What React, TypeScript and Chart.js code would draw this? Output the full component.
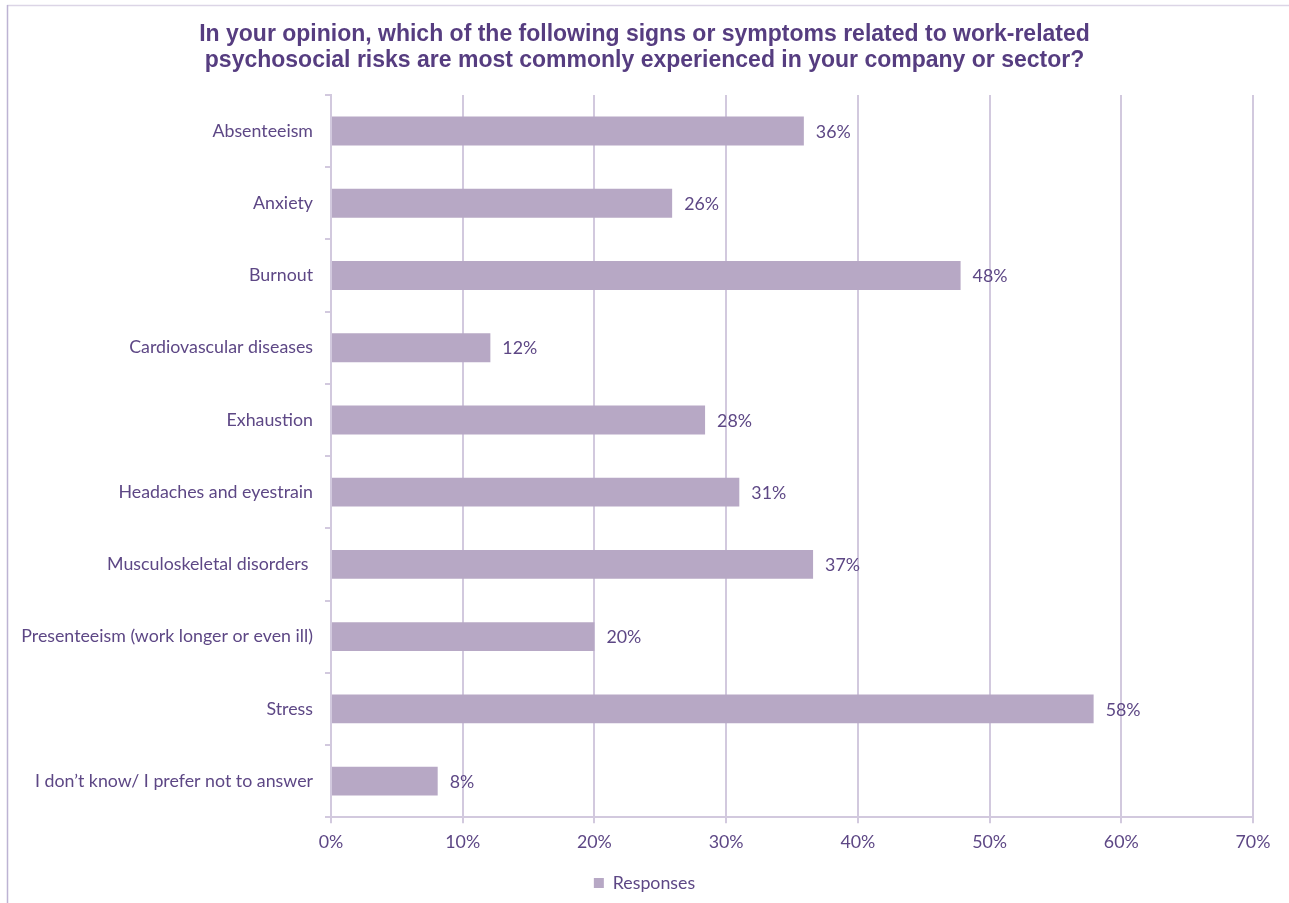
import React, { useEffect, useRef } from "react";
import { Chart, registerables } from "chart.js";

Chart.register(...registerables);

const categories = [
  "Absenteeism",
  "Anxiety",
  "Burnout",
  "Cardiovascular diseases",
  "Exhaustion",
  "Headaches and eyestrain",
  "Musculoskeletal disorders ",
  "Presenteeism (work longer or even ill)",
  "Stress",
  "I don\u2019t know/ I prefer not to answer",
];
const responses = [35.9, 25.9, 47.8, 12.1, 28.4, 31.0, 36.6, 20.0, 57.9, 8.1];
const valueLabels = ["36%", "26%", "48%", "12%", "28%", "31%", "37%", "20%", "58%", "8%"];
const xTicks = [0, 10, 20, 30, 40, 50, 60, 70];
const titleLines = [
  "In your opinion, which of the following signs or symptoms related to work-related",
  "psychosocial risks are most commonly experienced in your company or sector?",
];
const seriesName = "Responses";

const BAR = "#b7a8c5";
const GRID = "#d2c9de";
const TEXT = "#5d4785";
const TITLE = "#563d80";
const FONT = "Lato, 'Open Sans', sans-serif";
const FS = 17.8;

const framePlugin = {
  id: "frame",
  beforeDraw(chart: any) {
    const ctx = chart.ctx;
    ctx.save();
    ctx.fillStyle = "#ffffff";
    ctx.fillRect(0, 0, chart.width, chart.height);
    ctx.strokeStyle = "#dcd5e6";
    ctx.lineWidth = 1.5;
    ctx.beginPath();
    ctx.moveTo(7, 5.5);
    ctx.lineTo(chart.width, 5.5);
    ctx.stroke();
    ctx.strokeStyle = "#bdb3d3";
    ctx.beginPath();
    ctx.moveTo(7.5, 5);
    ctx.lineTo(7.5, chart.height);
    ctx.stroke();
    ctx.restore();
  },
};

const valueLabelPlugin = {
  id: "valueLabels",
  afterDatasetsDraw(chart: any) {
    const ctx = chart.ctx;
    const meta = chart.getDatasetMeta(0);
    ctx.save();
    ctx.font = `${FS}px ${FONT}`;
    ctx.fillStyle = TEXT;
    ctx.textAlign = "left";
    ctx.textBaseline = "middle";
    meta.data.forEach((bar: any, i: number) => {
      ctx.fillText(valueLabels[i], bar.x + 12, bar.y + 1);
    });
    ctx.restore();
  },
};

export default function App() {
  const ref = useRef<HTMLCanvasElement | null>(null);

  useEffect(() => {
    document.body.style.margin = "0";
    const canvas = ref.current;
    if (!canvas) return;
    const chart = new Chart(canvas, {
      type: "bar",
      data: {
        labels: categories,
        datasets: [
          {
            label: seriesName,
            data: responses,
            backgroundColor: BAR,
            borderWidth: 0,
            categoryPercentage: 0.4,
            barPercentage: 1,
          },
        ],
      },
      options: {
        indexAxis: "y",
        responsive: false,
        animation: false,
        devicePixelRatio: 1,
        layout: { padding: { left: 0, right: 0, top: 21, bottom: 1 } },
        plugins: {
          title: {
            display: true,
            text: titleLines,
            color: TITLE,
            font: { family: "'Liberation Sans Narrow', 'Arial Narrow', 'Liberation Sans', sans-serif", size: 23, weight: "bold", lineHeight: 1.15 },
            padding: { top: 0, bottom: 21 },
          },
          legend: {
            display: true,
            position: "bottom",
            labels: {
              color: TEXT,
              font: { family: FONT, size: FS },
              boxWidth: 10,
              boxHeight: 10,
              padding: 10,
            },
          },
          tooltip: { enabled: false },
        },
        scales: {
          x: {
            min: 0,
            max: 70,
            afterBuildTicks(scale: any) {
              scale.ticks = xTicks.map((v) => ({ value: v }));
            },
            afterFit(scale: any) {
              scale.height = 47;
              scale.paddingRight = 36;
            },
            ticks: {
              color: TEXT,
              font: { family: FONT, size: FS },
              padding: 8,
              callback: (v: any) => `${v}%`,
            },
            grid: {
              color: GRID,
              lineWidth: 2,
              drawTicks: true,
              tickLength: 6,
            },
            border: { color: GRID, width: 2 },
          },
          y: {
            afterFit(scale: any) {
              scale.width = 331;
            },
            ticks: {
              color: TEXT,
              font: { family: FONT, size: FS },
              padding: 12,
            },
            grid: {
              offset: true,
              drawOnChartArea: false,
              drawTicks: true,
              tickLength: 6,
              color: GRID,
              lineWidth: 2,
            },
            border: { color: GRID, width: 2 },
          },
        },
      },
      plugins: [framePlugin, valueLabelPlugin],
    });
    return () => chart.destroy();
  }, []);

  return <canvas ref={ref} width={1289} height={903} style={{ display: "block" }} />;
}
